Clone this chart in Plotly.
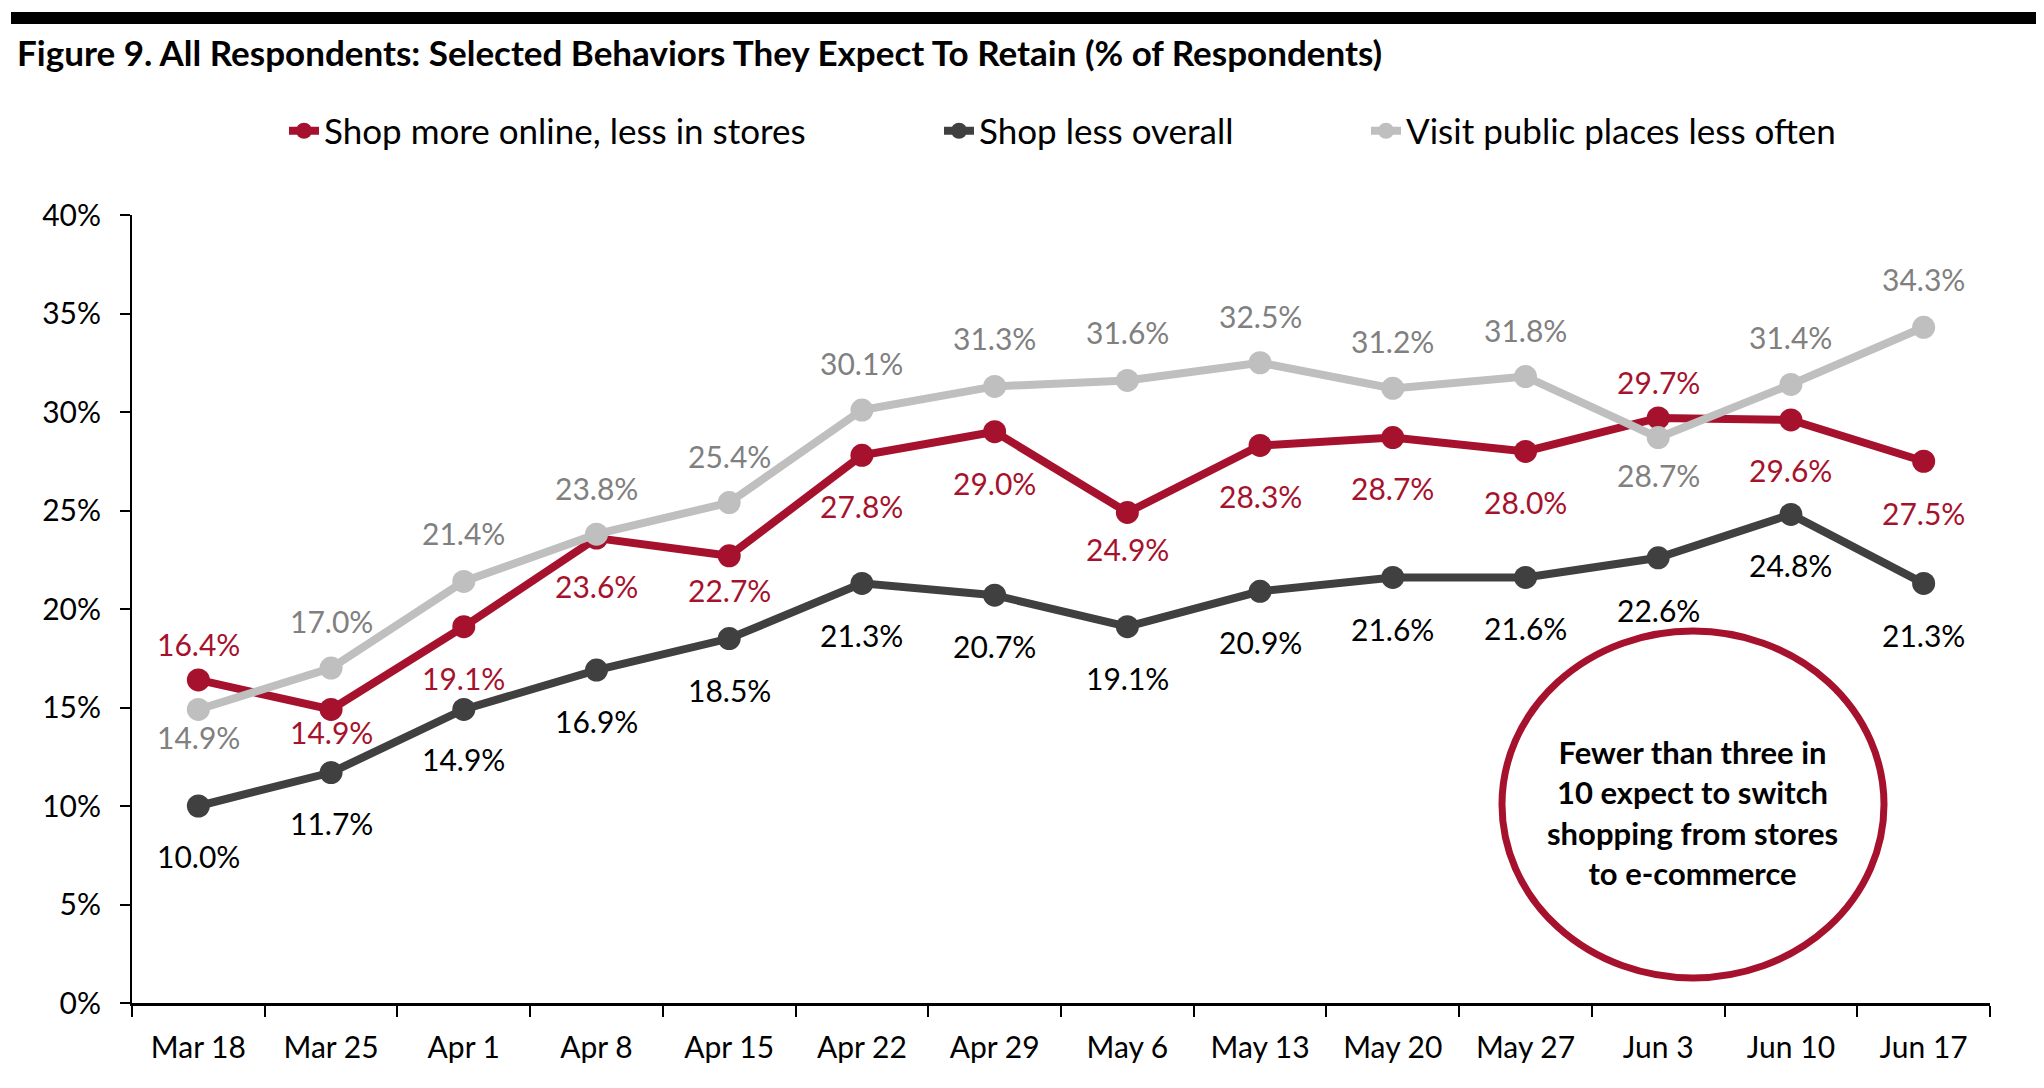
import plotly.graph_objects as go

categories = ["Mar 18", "Mar 25", "Apr 1", "Apr 8", "Apr 15", "Apr 22", "Apr 29",
              "May 6", "May 13", "May 20", "May 27", "Jun 3", "Jun 10", "Jun 17"]
shop_online = [16.4, 14.9, 19.1, 23.6, 22.7, 27.8, 29.0, 24.9, 28.3, 28.7, 28.0, 29.7, 29.6, 27.5]
shop_less = [10.0, 11.7, 14.9, 16.9, 18.5, 21.3, 20.7, 19.1, 20.9, 21.6, 21.6, 22.6, 24.8, 21.3]
visit_less = [14.9, 17.0, 21.4, 23.8, 25.4, 30.1, 31.3, 31.6, 32.5, 31.2, 31.8, 28.7, 31.4, 34.3]
y_ticks = [0, 5, 10, 15, 20, 25, 30, 35, 40]

# label vertical shift in pixels (positive = above the point)
online_shift = [36, -23, -51, -48, -34, -51, -51, -37, -51, -50, -51, 36, -50, -52]
less_shift = [-50, -50, -50, -51, -51, -52, -51, -51, -51, -52, -51, -52, -51, -52]
visit_shift = [-28, 47, 48, 46, 47, 47, 48, 48, 47, 47, 47, -37, 47, 48]

RED = "#A6122D"
DARK = "#404040"
GRAY = "#BFBFBF"
FONT = "Lato"

# page body has an 8px default margin; work in screenshot pixel coordinates
OFF = 8
SW, SH = 2044, 1088
W, H = SW - OFF, SH - OFF
L, R, T, B = 132 - OFF, SW - 1990, 215 - OFF, SH - 1003
pw = W - L - R
ph = H - T - B


def px_x(x):
    return (x - OFF - L) / pw


def px_y(y):
    return (H - B - (y - OFF)) / ph


series = [
    ("Shop more online, less in stores", shop_online, RED, RED, online_shift, "legend", 284),
    ("Shop less overall", shop_less, DARK, "#000000", less_shift, "legend2", 939),
    ("Visit public places less often", visit_less, GRAY, "#808080", visit_shift, "legend3", 1366),
]

fig = go.Figure()
annotations = []
legends = {}
for name, vals, color, lcolor, shifts, leg, lx in series:
    fig.add_trace(go.Scatter(
        x=categories, y=vals, name=name, mode="lines+markers",
        line=dict(color=color, width=8),
        marker=dict(color=color, size=23),
        hoverinfo="skip", legend=leg,
    ))
    legends[leg] = dict(orientation="h", x=px_x(lx), xanchor="left", y=px_y(131), yanchor="middle",
                        font=dict(family=FONT, size=35, color="#000000"),
                        bgcolor="rgba(0,0,0,0)")
    for c, v, s in zip(categories, vals, shifts):
        annotations.append(dict(
            x=c, y=v, xref="x", yref="y", text=f"{v:.1f}%", showarrow=False,
            yshift=s, font=dict(family=FONT, size=30, color=lcolor),
        ))

annotations.append(dict(
    x=px_x(1692), y=px_y(812), xref="paper", yref="paper", showarrow=False,
    xanchor="center", yanchor="middle",
    text="<b>Fewer than three in<br>10 expect to switch<br>shopping from stores<br>to e-commerce</b>",
    font=dict(family=FONT, size=31, color="#000000"), align="center",
))
annotations.append(dict(
    x=px_x(15), y=px_y(52), xref="paper", yref="paper", showarrow=False,
    text="<b>Figure 9. All Respondents: Selected Behaviors They Expect To Retain (% of Respondents)</b>",
    font=dict(family=FONT, size=35, color="#000000"), xanchor="left", yanchor="middle",
))

shapes = [
    dict(type="circle", xref="paper", yref="paper",
         x0=px_x(1502), x1=px_x(1884), y0=px_y(978), y1=px_y(631),
         line=dict(color=RED, width=7), fillcolor="rgba(0,0,0,0)"),
    dict(type="rect", xref="paper", yref="paper",
         x0=px_x(11), x1=px_x(2060), y0=px_y(24), y1=px_y(12),
         line=dict(width=0), fillcolor="#000000"),
]

fig.update_layout(
    width=W, height=H,
    margin=dict(l=L, r=R, t=T, b=B, autoexpand=False),
    paper_bgcolor="white", plot_bgcolor="white",
    font=dict(family=FONT, size=30, color="#000000"),
    showlegend=True,
    annotations=annotations,
    shapes=shapes,
    xaxis=dict(type="category", range=[-0.5, 13.5], showgrid=False, showline=True,
               linecolor="#000000", linewidth=3, ticks="outside", tickson="boundaries",
               ticklen=11, tickwidth=2, tickcolor="#000000",
               tickfont=dict(family=FONT, size=30, color="#000000"),
               ticklabelstandoff=16, fixedrange=True, automargin=False),
    yaxis=dict(range=[0, 40], tickvals=y_ticks, ticktext=[f"{t}%" for t in y_ticks],
               showgrid=False, zeroline=False, showline=True, linecolor="#000000",
               linewidth=2, ticks="outside", ticklen=10, tickwidth=2, tickcolor="#000000",
               tickfont=dict(family=FONT, size=30, color="#000000"),
               ticklabelstandoff=13, fixedrange=True, automargin=False),
    **legends,
)

fig.write_html("out.html")
